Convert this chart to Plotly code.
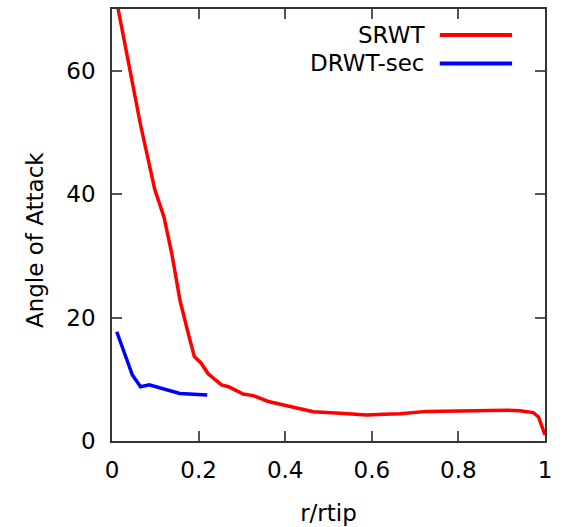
import plotly.graph_objects as go

srwt_r = [0.01, 0.045, 0.066, 0.099, 0.120, 0.138, 0.157, 0.174, 0.190, 0.206, 0.222,
          0.253, 0.269, 0.303, 0.326, 0.361, 0.403, 0.465, 0.527, 0.588, 0.627, 0.665,
          0.727, 0.788, 0.850, 0.912, 0.942, 0.973, 0.985, 0.990, 0.995, 1.0]
srwt_a = [71.5, 59.0, 51.2, 40.7, 36.3, 30.4, 22.8, 18.0, 13.7, 12.6, 10.9,
          9.1, 8.8, 7.6, 7.35, 6.4, 5.7, 4.75, 4.5, 4.2, 4.35, 4.4,
          4.8, 4.9, 5.0, 5.0, 4.9, 4.6, 3.9, 2.9, 1.8, 1.0]

drwt_r = [0.011, 0.047, 0.066, 0.086, 0.126, 0.157, 0.220]
drwt_a = [17.7, 10.7, 8.8, 9.1, 8.3, 7.7, 7.45]

names = ["SRWT", "DRWT-sec"]
colors = ["#ff0000", "#0000ff"]

FONT = "DejaVu Sans"
FS = 23

fig = go.Figure()
fig.add_trace(go.Scatter(x=srwt_r, y=srwt_a, mode="lines", name=names[0],
                         line=dict(color=colors[0], width=3.5), showlegend=False))
fig.add_trace(go.Scatter(x=drwt_r, y=drwt_a, mode="lines", name=names[1],
                         line=dict(color=colors[1], width=3.5), showlegend=False))

# gnuplot-style legend: text right-aligned, sample line to the right
for i, (n, c) in enumerate(zip(names, colors)):
    yp = 0.940 - i * 0.066
    fig.add_annotation(xref="paper", yref="paper", x=0.727, y=yp, text=n,
                       showarrow=False, xanchor="right", yanchor="middle",
                       font=dict(family=FONT, size=FS, color="black"))
    fig.add_shape(type="line", xref="paper", yref="paper", x0=0.757, x1=0.924,
                  y0=yp, y1=yp, line=dict(color=c, width=4))

# y-axis title placed like gnuplot (centred on the canvas rather than the plot area)
fig.add_annotation(xref="paper", yref="paper", x=-0.178, y=0.465, text="Angle of Attack",
                   textangle=-90, showarrow=False, xanchor="center", yanchor="middle",
                   font=dict(family=FONT, size=FS, color="black"))

axis_common = dict(showline=True, linecolor="#333333", linewidth=1.5, mirror="ticks",
                   ticks="inside", ticklen=10, tickcolor="#555555", tickwidth=1.5,
                   showgrid=False, zeroline=False, automargin=False,
                   tickfont=dict(family=FONT, size=FS, color="black"))

fig.update_layout(
    width=563, height=527,
    margin=dict(l=112, r=18, t=9, b=86),
    plot_bgcolor="white", paper_bgcolor="white",
    xaxis=dict(range=[0, 1], tickvals=[0, 0.2, 0.4, 0.6, 0.8, 1],
               ticktext=["0", "0.2", "0.4", "0.6", "0.8", "1"],
               ticklabelstandoff=8,
               title=dict(text="r/rtip", font=dict(family=FONT, size=FS, color="black"),
                          standoff=23),
               **axis_common),
    yaxis=dict(range=[0, 70], tickvals=[0, 20, 40, 60],
               ticklabelstandoff=10,
               **axis_common),
)

fig.write_html("out.html")
